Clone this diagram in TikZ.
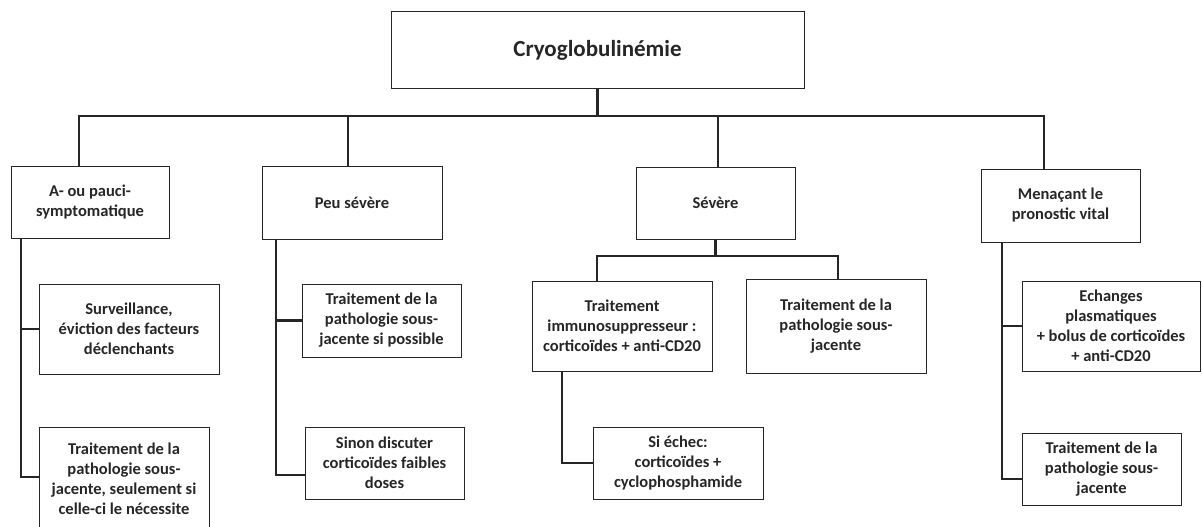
\documentclass[tikz,border=0pt]{standalone}
\usepackage{fontspec}
\setmainfont{Carlito}
\usepackage{xcolor}
\usetikzlibrary{positioning}

\begin{document}
\begin{tikzpicture}[x=1pt,y=-1pt,
  box/.style={draw=black!85,line width=1pt,align=center,inner sep=2pt,
    text=black!85,font=\bfseries\fontsize{16.5}{20}\selectfont},
  link/.style={draw=black!85,line width=2.2pt}]
  \useasboundingbox (0,0) rectangle (1202,527);

  % top
  \node[box,minimum width=413pt,minimum height=76pt,
        font=\bfseries\fontsize{23}{27}\selectfont] (root) at (597.5,50) {Cryoglobulinémie};

  % severity levels
  \node[box,minimum width=158pt,minimum height=72pt] (asym) at (90,202) {A- ou pauci-\\symptomatique};
  \node[box,minimum width=180pt,minimum height=73pt] (peu) at (352,202.5) {Peu sévère};
  \node[box,minimum width=159pt,minimum height=72pt] (sev) at (715.5,203) {Sévère};
  \node[box,minimum width=159pt,minimum height=73pt] (men) at (1060.5,205.5) {Menaçant le\\pronostic vital};

  % treatments
  \node[box,minimum width=180pt,minimum height=90pt] (surv) at (129,329) {Surveillance,\\éviction des facteurs\\déclenchants};
  \node[box,minimum width=170pt,minimum height=104pt] (trasym) at (124,479) {Traitement de la\\pathologie sous-\\jacente, seulement si\\celle-ci le nécessite};
  \node[box,minimum width=159pt,minimum height=73pt] (trpeu) at (381.5,320.5) {Traitement de la\\pathologie sous-\\jacente si possible};
  \node[box,minimum width=159pt,minimum height=72pt] (sinon) at (384.5,463) {Sinon discuter\\corticoïdes faibles\\doses};
  \node[box,minimum width=180pt,minimum height=90pt] (immu) at (622,326) {Traitement\\immunosuppresseur :\\corticoïdes + anti-CD20};
  \node[box,minimum width=180pt,minimum height=94pt] (trsev) at (836,326) {Traitement de la\\pathologie sous-\\jacente};
  \node[box,minimum width=170pt,minimum height=72pt] (echec) at (678,463) {Si échec:\\corticoïdes +\\cyclophosphamide};
  \node[box,minimum width=178pt,minimum height=90pt] (plasma) at (1111,326) {Echanges\\plasmatiques\\+ bolus de corticoïdes\\+ anti-CD20};
  \node[box,minimum width=159pt,minimum height=72pt] (trmen) at (1101.5,469) {Traitement de la\\pathologie sous-\\jacente};

  % branch points
  \coordinate (dA) at (79,116);
  \coordinate (dP) at (348,116);
  \coordinate (dS) at (718,116);
  \coordinate (dM) at (1044,116);
  \coordinate (tA) at (21,477);
  \coordinate (tP) at (276,475);
  \coordinate (tM) at (1002,479);
  \coordinate (sl) at (597,256);
  \coordinate (sr) at (838,256);
  \coordinate (tI) at (562,463);

  \draw[link] (root.south) -- (root.south |- dA);
  \draw[link] (asym.north -| dA) -- (dA) -- (dM) -- (men.north -| dM);
  \draw[link] (dP) -- (peu.north -| dP);
  \draw[link] (dS) -- (sev.north -| dS);

  \draw[link] (asym.south -| tA) -- (tA) -- (tA -| trasym.west);
  \draw[link] (surv.west -| tA) -- (surv.west);
  \draw[link] (peu.south -| tP) -- (tP) -- (tP -| sinon.west);
  \draw[link] (trpeu.west -| tP) -- (trpeu.west);
  \draw[link] (men.south -| tM) -- (tM) -- (tM -| trmen.west);
  \draw[link] (plasma.west -| tM) -- (plasma.west);

  \draw[link] (sev.south) -- (sev.south |- sl);
  \draw[link] (immu.north -| sl) -- (sl) -- (sr) -- (trsev.north -| sr);
  \draw[link] (immu.south -| tI) -- (tI) -- (echec.west);
\end{tikzpicture}
\end{document}
